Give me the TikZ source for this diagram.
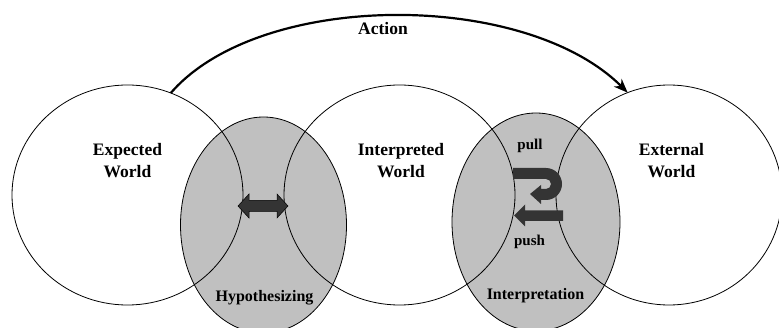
\documentclass[tikz,border=0pt]{standalone}
\usepackage{fontspec}
\setmainfont{Liberation Serif}
\usetikzlibrary{arrows.meta,shapes.geometric}
\definecolor{shade}{RGB}{192,192,192}
\definecolor{arrowfill}{RGB}{52,52,52}
\begin{document}
\begin{tikzpicture}[x=1pt,y=-1pt,
  world/.style={ellipse, draw=black, line width=0.8pt, inner sep=0pt, outer sep=0pt},
  zone/.style={ellipse, draw=black, fill=shade, line width=0.8pt, inner sep=0pt, outer sep=0pt},
  biglbl/.style={font=\fontsize{17.5}{22}\selectfont\bfseries, align=center, inner sep=0pt},
  zonelbl/.style={font=\fontsize{16}{19}\selectfont\bfseries, inner sep=0pt},
  smalllbl/.style={font=\fontsize{15}{18}\selectfont\bfseries, inner sep=0pt},
  fatarrow/.style={fill=arrowfill},
  actionline/.style={line width=2.2pt, -{Stealth[length=14pt,width=11pt]}}]
\path[use as bounding box] (0,0) rectangle (779,328);

% shaded overlap zones
\node[zone, minimum width=166pt, minimum height=216pt] (H) at (263.5,225) {};
\node[zone, minimum width=168pt, minimum height=218pt] (I) at (536,222) {};

% worlds
\node[world, minimum width=231pt, minimum height=220pt] (L) at (127.5,195) {};
\node[world, minimum width=231pt, minimum height=220pt] (M) at (399.5,195) {};
\node[world, minimum width=226pt, minimum height=220pt] (R) at (669,195) {};

% labels
\node[biglbl] (tL) at (127.5,161) {Expected\\World};
\node[biglbl] (tM) at (401,161) {Interpreted\\World};
\node[biglbl] (tR) at (671.5,161) {External\\World};
\node[zonelbl] (tH) at (264.5,298) {Hypothesizing};
\node[zonelbl] (tI) at (535.5,296) {Interpretation};
\node[smalllbl] (tpull) at (530,146) {pull};
\node[smalllbl] (tpush) at (529.5,242) {push};
\node[biglbl] (tA) at (383,29) {Action};

% action arrow
\draw[actionline] (L.67) .. controls (260,-10) and (525,-10) .. (R.112);

% double arrow (hypothesizing)
\draw[fatarrow, draw=black, line width=0.5pt]
  (238,206) -- (249,194) -- (249,200.5) -- (277,200.5) -- (277,194) -- (288,206)
  -- (277,218) -- (277,211.5) -- (249,211.5) -- (249,218) -- cycle;

% pull arrow (U-turn)
\fill[fatarrow]
  (513,168) -- (546,168)
  .. controls (554.8,168) and (562,175.2) .. (562,184)
  .. controls (562,192.8) and (554.8,200) .. (546,200)
  -- (541,200) -- (541,204) -- (530,194) -- (541,185) -- (541,189) -- (546,189)
  .. controls (548.8,189) and (551,186.8) .. (551,184)
  .. controls (551,181.2) and (548.8,179) .. (546,179)
  -- (513,179) -- cycle;

% push arrow
\fill[fatarrow]
  (563,210.5) -- (525,210.5) -- (525,204.5) -- (514,215.5) -- (525,226.5)
  -- (525,221) -- (563,221) -- cycle;
\end{tikzpicture}
\end{document}
